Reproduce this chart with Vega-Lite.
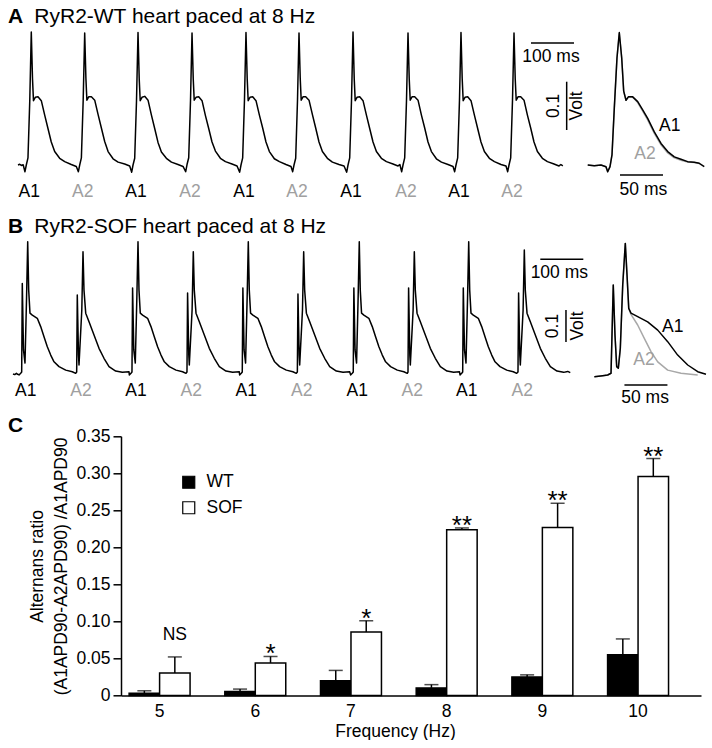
{
"$schema": "https://vega.github.io/schema/vega-lite/v6.json",
"padding": {"left": 7, "top": 0, "right": 0, "bottom": 0},
"columns": 1,
"spacing": 4.3,
"config": {
  "font": "Liberation Sans",
  "view": {"stroke": null},
  "text": {"font": "Liberation Sans", "fontSize": 17.5, "color": "black"},
  "axis": {"domainColor": "black", "tickColor": "black", "labelColor": "black", "titleColor": "black", "domainWidth": 1.5, "tickWidth": 1.5, "grid": false, "labelFontSize": 17.5, "titleFontSize": 17.5, "titleFontWeight": "normal", "labelFont": "Liberation Sans", "titleFont": "Liberation Sans"},
  "legend": {"labelFont": "Liberation Sans", "labelColor": "black"},
  "title": {"font": "Liberation Sans", "color": "black"}
},
"datasets": {
  "wt": [
    {"t":0,"v":0},{"t":4,"v":1.5},{"t":8,"v":-1},{"t":12,"v":0.5},
    {"t":16.2,"v":-14},{"t":19.3,"v":0},{"t":23.2,"v":15},{"t":27.4,"v":135},{"t":30.9,"v":277},{"t":33.7,"v":180},{"t":36.0,"v":134},{"t":40.2,"v":141},{"t":46.5,"v":142},{"t":54.2,"v":134},{"t":62.1,"v":104},{"t":69.7,"v":76},{"t":77.4,"v":48},{"t":85.3,"v":28},{"t":96.9,"v":14},{"t":108.6,"v":7},{"t":123.9,"v":1},{"t":135.6,"v":-3},
    {"t":140.4,"v":-14},{"t":143.5,"v":0},{"t":147.4,"v":15},{"t":151.6,"v":135},{"t":155.1,"v":275},{"t":157.9,"v":181},{"t":160.2,"v":135},{"t":164.4,"v":142},{"t":170.7,"v":142},{"t":178.4,"v":135},{"t":186.3,"v":105},{"t":193.9,"v":77},{"t":201.6,"v":49},{"t":209.5,"v":28},{"t":221.1,"v":13},{"t":232.8,"v":6},{"t":248.1,"v":2},{"t":259.8,"v":-2},
    {"t":264.4,"v":-15},{"t":267.5,"v":0},{"t":271.4,"v":14},{"t":275.6,"v":134},{"t":279.1,"v":276},{"t":281.9,"v":179},{"t":284.2,"v":134},{"t":288.4,"v":141},{"t":294.7,"v":143},{"t":302.4,"v":135},{"t":310.3,"v":104},{"t":317.9,"v":76},{"t":325.6,"v":47},{"t":333.5,"v":27},{"t":345.1,"v":14},{"t":356.8,"v":6},{"t":372.1,"v":1},{"t":383.8,"v":-3},
    {"t":390.0,"v":-14},{"t":393.1,"v":1},{"t":397.0,"v":15},{"t":401.2,"v":135},{"t":404.7,"v":275},{"t":407.5,"v":180},{"t":409.8,"v":135},{"t":414.0,"v":141},{"t":420.3,"v":142},{"t":428.0,"v":134},{"t":435.9,"v":103},{"t":443.5,"v":76},{"t":451.2,"v":48},{"t":459.1,"v":29},{"t":470.7,"v":14},{"t":482.4,"v":7},{"t":497.7,"v":2},{"t":509.4,"v":-2},
    {"t":515.5,"v":-15},{"t":518.6,"v":0},{"t":522.5,"v":15},{"t":526.7,"v":136},{"t":530.2,"v":276},{"t":533.0,"v":180},{"t":535.3,"v":134},{"t":539.5,"v":141},{"t":545.8,"v":142},{"t":553.5,"v":134},{"t":561.4,"v":104},{"t":569.0,"v":77},{"t":576.7,"v":48},{"t":584.6,"v":28},{"t":596.2,"v":13},{"t":607.9,"v":7},{"t":623.2,"v":1},{"t":634.9,"v":-3},
    {"t":638.8,"v":-14},{"t":641.9,"v":0},{"t":645.8,"v":14},{"t":650.0,"v":135},{"t":653.5,"v":275},{"t":656.3,"v":181},{"t":658.6,"v":135},{"t":662.8,"v":142},{"t":669.1,"v":142},{"t":676.8,"v":135},{"t":684.7,"v":105},{"t":692.3,"v":77},{"t":700.0,"v":48},{"t":707.9,"v":28},{"t":719.5,"v":14},{"t":731.2,"v":6},{"t":746.5,"v":1},{"t":758.2,"v":-2},
    {"t":764.4,"v":-15},{"t":767.5,"v":0},{"t":771.4,"v":15},{"t":775.6,"v":135},{"t":779.1,"v":277},{"t":781.9,"v":180},{"t":784.2,"v":134},{"t":788.4,"v":141},{"t":794.7,"v":142},{"t":802.4,"v":134},{"t":810.3,"v":104},{"t":817.9,"v":76},{"t":825.6,"v":48},{"t":833.5,"v":28},{"t":845.1,"v":14},{"t":856.8,"v":7},{"t":872.1,"v":2},{"t":883.8,"v":-2},{"t":888.0,"v":1},
    {"t":892.3,"v":-14},{"t":895.4,"v":0},{"t":899.3,"v":15},{"t":903.5,"v":135},{"t":907.0,"v":275},{"t":909.8,"v":180},{"t":912.1,"v":135},{"t":916.3,"v":142},{"t":922.6,"v":142},{"t":930.3,"v":135},{"t":938.2,"v":104},{"t":945.8,"v":77},{"t":953.5,"v":48},{"t":961.4,"v":28},{"t":973.0,"v":13},{"t":984.7,"v":6},{"t":1000.0,"v":1},{"t":1011.7,"v":-3},
    {"t":1015.5,"v":-14},{"t":1018.6,"v":0},{"t":1022.5,"v":15},{"t":1026.7,"v":135},{"t":1030.2,"v":276},{"t":1033.0,"v":180},{"t":1035.3,"v":134},{"t":1039.5,"v":141},{"t":1045.8,"v":142},{"t":1053.5,"v":134},{"t":1061.4,"v":104},{"t":1069.0,"v":76},{"t":1076.7,"v":48},{"t":1084.6,"v":28},{"t":1096.2,"v":14},{"t":1107.9,"v":7},{"t":1123.2,"v":1},{"t":1134.9,"v":-2},
    {"t":1138.8,"v":-14},{"t":1141.9,"v":0},{"t":1145.8,"v":15},{"t":1150.0,"v":135},{"t":1153.5,"v":275},{"t":1156.3,"v":180},{"t":1158.6,"v":135},{"t":1162.8,"v":142},{"t":1169.1,"v":142},{"t":1176.8,"v":135},{"t":1184.7,"v":104},{"t":1192.3,"v":77},{"t":1200.0,"v":48},{"t":1207.9,"v":28},{"t":1219.5,"v":14},{"t":1231.2,"v":7},{"t":1246.5,"v":2},{"t":1258.2,"v":-2},{"t":1262.5,"v":1},{"t":1267.0,"v":-2}
  ],
  "sof": [
    {"t":0,"v":-3},{"t":4,"v":-5},{"t":8,"v":-1},{"t":11,"v":-4},
    {"t":14.0,"v":-6},{"t":17.9,"v":-1},{"t":20.2,"v":3},{"t":21.6,"v":280},{"t":24.4,"v":72},{"t":27.9,"v":31},{"t":31.4,"v":228},{"t":34.2,"v":410},{"t":36.5,"v":259},{"t":39.5,"v":187},{"t":44.9,"v":181},{"t":56.5,"v":171},{"t":64.4,"v":145},{"t":72.1,"v":113},{"t":79.8,"v":82},{"t":87.7,"v":56},{"t":95.4,"v":35},{"t":107.0,"v":20},{"t":122.6,"v":9},{"t":137.9,"v":4},{"t":145.8,"v":-1},
    {"t":148.1,"v":3},{"t":149.5,"v":244},{"t":152.3,"v":56},{"t":153.5,"v":25},{"t":160.0,"v":197},{"t":162.8,"v":379},{"t":165.1,"v":259},{"t":169.1,"v":187},{"t":176.8,"v":160},{"t":188.4,"v":119},{"t":200.0,"v":77},{"t":211.6,"v":46},{"t":223.3,"v":20},{"t":238.8,"v":6},{"t":254.2,"v":2},{"t":269.8,"v":4},
    {"t":270.5,"v":-6},{"t":274.4,"v":-1},{"t":276.7,"v":3},{"t":278.1,"v":266},{"t":280.9,"v":72},{"t":284.4,"v":31},{"t":287.9,"v":228},{"t":290.7,"v":410},{"t":293.0,"v":259},{"t":296.0,"v":187},{"t":301.4,"v":181},{"t":313.0,"v":171},{"t":320.9,"v":145},{"t":328.6,"v":113},{"t":336.3,"v":82},{"t":344.2,"v":56},{"t":351.9,"v":35},{"t":363.5,"v":20},{"t":379.1,"v":9},{"t":394.4,"v":4},{"t":402.3,"v":-1},
    {"t":404.6,"v":3},{"t":406.0,"v":250},{"t":408.8,"v":56},{"t":410.0,"v":25},{"t":416.5,"v":197},{"t":419.3,"v":379},{"t":421.6,"v":259},{"t":425.6,"v":187},{"t":433.3,"v":160},{"t":444.9,"v":119},{"t":456.5,"v":77},{"t":468.1,"v":46},{"t":479.8,"v":20},{"t":495.3,"v":6},{"t":510.7,"v":2},{"t":526.3,"v":4},
    {"t":527.0,"v":-6},{"t":530.9,"v":-1},{"t":533.2,"v":3},{"t":534.6,"v":266},{"t":537.4,"v":72},{"t":540.9,"v":31},{"t":544.4,"v":228},{"t":547.2,"v":410},{"t":549.5,"v":259},{"t":552.5,"v":187},{"t":557.9,"v":181},{"t":569.5,"v":171},{"t":577.4,"v":145},{"t":585.1,"v":113},{"t":592.8,"v":82},{"t":600.7,"v":56},{"t":608.4,"v":35},{"t":620.0,"v":20},{"t":635.6,"v":9},{"t":650.9,"v":4},{"t":658.8,"v":-1},
    {"t":661.3,"v":3},{"t":662.7,"v":247},{"t":665.5,"v":56},{"t":666.7,"v":25},{"t":673.2,"v":197},{"t":676.0,"v":379},{"t":678.3,"v":259},{"t":682.3,"v":187},{"t":690.0,"v":160},{"t":701.6,"v":119},{"t":713.2,"v":77},{"t":724.8,"v":46},{"t":736.5,"v":20},{"t":752.0,"v":6},{"t":767.4,"v":2},{"t":783.0,"v":4},
    {"t":785.1,"v":-6},{"t":789.0,"v":-1},{"t":791.3,"v":3},{"t":792.7,"v":266},{"t":795.5,"v":72},{"t":799.0,"v":31},{"t":802.5,"v":228},{"t":805.3,"v":410},{"t":807.6,"v":259},{"t":810.6,"v":187},{"t":816.0,"v":181},{"t":827.6,"v":171},{"t":835.5,"v":145},{"t":843.2,"v":113},{"t":850.9,"v":82},{"t":858.8,"v":56},{"t":866.5,"v":35},{"t":878.1,"v":20},{"t":893.7,"v":9},{"t":909.0,"v":4},{"t":916.9,"v":-1},
    {"t":918.6,"v":3},{"t":920.0,"v":266},{"t":922.8,"v":56},{"t":924.0,"v":25},{"t":930.5,"v":197},{"t":933.3,"v":379},{"t":935.6,"v":259},{"t":939.6,"v":187},{"t":947.3,"v":160},{"t":958.9,"v":119},{"t":970.5,"v":77},{"t":982.1,"v":46},{"t":993.8,"v":20},{"t":1009.3,"v":6},{"t":1024.7,"v":2},{"t":1038.3,"v":4},
    {"t":1039.6,"v":-6},{"t":1043.5,"v":-1},{"t":1045.8,"v":3},{"t":1047.2,"v":266},{"t":1050.0,"v":72},{"t":1053.5,"v":31},{"t":1057.0,"v":228},{"t":1059.8,"v":410},{"t":1062.1,"v":259},{"t":1065.1,"v":187},{"t":1070.5,"v":181},{"t":1082.1,"v":171},{"t":1090.0,"v":145},{"t":1097.7,"v":113},{"t":1105.4,"v":82},{"t":1113.3,"v":56},{"t":1121.0,"v":35},{"t":1132.6,"v":20},{"t":1148.2,"v":9},{"t":1163.5,"v":4},{"t":1171.4,"v":-1},
    {"t":1174.4,"v":3},{"t":1175.8,"v":250},{"t":1178.6,"v":56},{"t":1179.8,"v":25},{"t":1186.3,"v":197},{"t":1189.1,"v":384},{"t":1191.4,"v":259},{"t":1195.4,"v":187},{"t":1203.1,"v":160},{"t":1214.7,"v":119},{"t":1226.3,"v":77},{"t":1237.9,"v":46},{"t":1249.6,"v":20},{"t":1265.1,"v":6},{"t":1280.5,"v":2},{"t":1290.0,"v":5},{"t":1296.0,"v":1}
  ],
  "wtInset": [
    {"t":-36.7,"v":0,"beat":"A2"},{"t":-29.1,"v":-1.5,"beat":"A2"},{"t":-21.3,"v":0,"beat":"A2"},{"t":-15.5,"v":-3.5,"beat":"A2"},{"t":-13.5,"v":-14,"beat":"A2"},{"t":-10.8,"v":-3.5,"beat":"A2"},{"t":-8.5,"v":21,"beat":"A2"},{"t":-5.8,"v":119,"beat":"A2"},{"t":-2.7,"v":223,"beat":"A2"},{"t":0,"v":274,"beat":"A2"},{"t":2.8,"v":223,"beat":"A2"},{"t":5.1,"v":154,"beat":"A2"},{"t":7.8,"v":135,"beat":"A2"},{"t":10.5,"v":141,"beat":"A2"},{"t":15.6,"v":141,"beat":"A2"},{"t":21.4,"v":130,"beat":"A2"},{"t":27.2,"v":112,"beat":"A2"},{"t":33.0,"v":94,"beat":"A2"},{"t":40.7,"v":66,"beat":"A2"},{"t":48.5,"v":42,"beat":"A2"},{"t":56.3,"v":25,"beat":"A2"},{"t":64.0,"v":15,"beat":"A2"},{"t":71.7,"v":10,"beat":"A2"},{"t":79.5,"v":6,"beat":"A2"},{"t":87.2,"v":5,"beat":"A2"},{"t":93.0,"v":3,"beat":"A2"},
    {"t":-36.7,"v":0,"beat":"A1"},{"t":-29.1,"v":-1.5,"beat":"A1"},{"t":-21.3,"v":0,"beat":"A1"},{"t":-15.5,"v":-3.5,"beat":"A1"},{"t":-13.5,"v":-14,"beat":"A1"},{"t":-10.8,"v":-3.5,"beat":"A1"},{"t":-8.5,"v":21,"beat":"A1"},{"t":-5.8,"v":119,"beat":"A1"},{"t":-2.7,"v":223,"beat":"A1"},{"t":0,"v":276,"beat":"A1"},{"t":2.8,"v":223,"beat":"A1"},{"t":5.1,"v":154,"beat":"A1"},{"t":7.8,"v":135,"beat":"A1"},{"t":10.5,"v":142,"beat":"A1"},{"t":15.6,"v":142,"beat":"A1"},{"t":21.4,"v":132,"beat":"A1"},{"t":27.2,"v":115,"beat":"A1"},{"t":33.0,"v":97,"beat":"A1"},{"t":40.7,"v":69,"beat":"A1"},{"t":48.5,"v":45,"beat":"A1"},{"t":56.3,"v":28,"beat":"A1"},{"t":64.0,"v":17,"beat":"A1"},{"t":71.7,"v":12,"beat":"A1"},{"t":79.5,"v":7,"beat":"A1"},{"t":87.2,"v":5.6,"beat":"A1"},{"t":93.0,"v":3.5,"beat":"A1"},{"t":98.8,"v":-3.5,"beat":"A1"}
  ],
  "sofInset": [
    {"t":-36.0,"v":-11.6,"beat":"A2"},{"t":-26.3,"v":-8.4,"beat":"A2"},{"t":-20.5,"v":-6.3,"beat":"A2"},{"t":-16.6,"v":-0.9,"beat":"A2"},{"t":-14.0,"v":275,"beat":"A2"},{"t":-12.0,"v":119,"beat":"A2"},{"t":-10.0,"v":20,"beat":"A2"},{"t":-8.1,"v":15,"beat":"A2"},{"t":-5.8,"v":77,"beat":"A2"},{"t":-3.0,"v":275,"beat":"A2"},{"t":0,"v":405,"beat":"A2"},{"t":2.0,"v":306,"beat":"A2"},{"t":4.0,"v":202,"beat":"A2"},{"t":6.6,"v":183,"beat":"A2"},{"t":14.4,"v":150,"beat":"A2"},{"t":22.1,"v":108,"beat":"A2"},{"t":29.9,"v":67,"beat":"A2"},{"t":37.7,"v":35,"beat":"A2"},{"t":49.3,"v":9,"beat":"A2"},{"t":64.8,"v":-1,"beat":"A2"},{"t":84.2,"v":-6,"beat":"A2"},
    {"t":-36.0,"v":-11.6,"beat":"A1"},{"t":-26.3,"v":-8.4,"beat":"A1"},{"t":-20.5,"v":-6.3,"beat":"A1"},{"t":-16.6,"v":-0.9,"beat":"A1"},{"t":-14.0,"v":275,"beat":"A1"},{"t":-12.0,"v":119,"beat":"A1"},{"t":-10.0,"v":20,"beat":"A1"},{"t":-8.1,"v":15,"beat":"A1"},{"t":-5.8,"v":77,"beat":"A1"},{"t":-3.0,"v":275,"beat":"A1"},{"t":0,"v":405,"beat":"A1"},{"t":2.0,"v":306,"beat":"A1"},{"t":4.0,"v":202,"beat":"A1"},{"t":6.6,"v":187,"beat":"A1"},{"t":14.4,"v":176,"beat":"A1"},{"t":26.0,"v":160,"beat":"A1"},{"t":37.7,"v":134,"beat":"A1"},{"t":49.3,"v":98,"beat":"A1"},{"t":60.9,"v":56,"beat":"A1"},{"t":72.6,"v":25,"beat":"A1"},{"t":84.2,"v":4,"beat":"A1"},{"t":93.8,"v":-4,"beat":"A1"}
  ],
  "wtBeats": [
    {"t":30.9,"beat":"A1"},{"t":155.1,"beat":"A2"},{"t":279.1,"beat":"A1"},{"t":404.7,"beat":"A2"},{"t":530.2,"beat":"A1"},{"t":653.5,"beat":"A2"},{"t":779.1,"beat":"A1"},{"t":907.0,"beat":"A2"},{"t":1030.2,"beat":"A1"},{"t":1153.5,"beat":"A2"}
  ],
  "sofBeats": [
    {"t":34.2,"beat":"A1"},{"t":162.8,"beat":"A2"},{"t":290.7,"beat":"A1"},{"t":419.3,"beat":"A2"},{"t":547.2,"beat":"A1"},{"t":676.0,"beat":"A2"},{"t":805.3,"beat":"A1"},{"t":933.3,"beat":"A2"},{"t":1059.8,"beat":"A1"},{"t":1189.1,"beat":"A2"}
  ],
  "bars": [
    {"freq":5,"geno":"WT","mean":0.0033,"err":0.0065,"sig":""},
    {"freq":5,"geno":"SOF","mean":0.0306,"err":0.0522,"sig":"NS"},
    {"freq":6,"geno":"WT","mean":0.0055,"err":0.0088,"sig":""},
    {"freq":6,"geno":"SOF","mean":0.0441,"err":0.0528,"sig":"*"},
    {"freq":7,"geno":"WT","mean":0.0202,"err":0.034,"sig":""},
    {"freq":7,"geno":"SOF","mean":0.086,"err":0.101,"sig":"*"},
    {"freq":8,"geno":"WT","mean":0.0104,"err":0.0148,"sig":""},
    {"freq":8,"geno":"SOF","mean":0.224,"err":0.2263,"sig":"**"},
    {"freq":9,"geno":"WT","mean":0.0252,"err":0.028,"sig":""},
    {"freq":9,"geno":"SOF","mean":0.227,"err":0.2596,"sig":"**"},
    {"freq":10,"geno":"WT","mean":0.055,"err":0.0765,"sig":""},
    {"freq":10,"geno":"SOF","mean":0.2956,"err":0.32,"sig":"**"}
  ]
},
"concat": [
  {
    "width": 592,
    "height": 410,
    "data": {"values": [{}]},
    "resolve": {"scale": {"x": "independent", "y": "independent"}},
    "layer": [
      {"data": {"name": "wt"}, "mark": {"type": "line", "color": "black", "strokeWidth": 1.5, "strokeJoin": "round"},
       "encoding": {"x": {"field": "t", "type": "quantitative", "scale": {"domain": [239.535, 1616.279], "nice": false, "zero": false}, "axis": null},
                    "y": {"field": "v", "type": "quantitative", "scale": {"domain": [-510.42, 343.75], "nice": false, "zero": false}, "axis": null}}},
      {"data": {"name": "wtBeats"}, "mark": {"type": "text", "baseline": "alphabetic", "dx": -2, "fontSize": 17.5},
       "encoding": {"x": {"field": "t", "type": "quantitative", "scale": {"domain": [239.535, 1616.279], "nice": false, "zero": false}, "axis": null},
                    "y": {"datum": -66.7, "type": "quantitative", "scale": {"domain": [-510.42, 343.75], "nice": false, "zero": false}, "axis": null},
                    "text": {"field": "beat"},
                    "color": {"field": "beat", "type": "nominal", "scale": {"domain": ["A1", "A2"], "range": ["black", "#a0a0a0"]}, "legend": null}}},
      {"mark": {"type": "rule", "color": "black", "strokeWidth": 1.5},
       "encoding": {"x": {"datum": 1193, "type": "quantitative", "scale": {"domain": [239.535, 1616.279], "nice": false, "zero": false}, "axis": null}, "x2": {"datum": 1293},
                    "y": {"datum": 254.2, "type": "quantitative", "scale": {"domain": [-510.42, 343.75], "nice": false, "zero": false}, "axis": null}}},
      {"mark": {"type": "text", "baseline": "alphabetic", "fontSize": 17.5},
       "encoding": {"x": {"datum": 1239.5, "type": "quantitative", "scale": {"domain": [239.535, 1616.279], "nice": false, "zero": false}, "axis": null},
                    "y": {"datum": 214.6, "type": "quantitative", "scale": {"domain": [-510.42, 343.75], "nice": false, "zero": false}, "axis": null}, "text": {"value": "100 ms"}}},
      {"mark": {"type": "rule", "color": "black", "strokeWidth": 1.5},
       "encoding": {"x": {"datum": 1276, "type": "quantitative", "scale": {"domain": [239.535, 1616.279], "nice": false, "zero": false}, "axis": null},
                    "y": {"datum": 72.9, "type": "quantitative", "scale": {"domain": [-510.42, 343.75], "nice": false, "zero": false}, "axis": null}, "y2": {"datum": 173.5}}},
      {"mark": {"type": "text", "angle": 270, "baseline": "middle", "align": "center", "fontSize": 17.5},
       "encoding": {"x": {"datum": 1246.5, "type": "quantitative", "scale": {"domain": [239.535, 1616.279], "nice": false, "zero": false}, "axis": null},
                    "y": {"datum": 123, "type": "quantitative", "scale": {"domain": [-510.42, 343.75], "nice": false, "zero": false}, "axis": null}, "text": {"value": "0.1"}}},
      {"mark": {"type": "text", "angle": 270, "baseline": "middle", "align": "center", "fontSize": 17.5},
       "encoding": {"x": {"datum": 1300, "type": "quantitative", "scale": {"domain": [239.535, 1616.279], "nice": false, "zero": false}, "axis": null},
                    "y": {"datum": 123, "type": "quantitative", "scale": {"domain": [-510.42, 343.75], "nice": false, "zero": false}, "axis": null}, "text": {"value": "Volt"}}},
      {"mark": {"type": "text", "align": "left", "baseline": "alphabetic", "fontSize": 21, "fontWeight": "bold"},
       "encoding": {"x": {"datum": -23.256, "type": "quantitative", "scale": {"domain": [239.535, 1616.279], "nice": false, "zero": false}, "axis": null},
                    "y": {"datum": 295.8, "type": "quantitative", "scale": {"domain": [-510.42, 343.75], "nice": false, "zero": false}, "axis": null}, "text": {"value": "A"}}},
      {"mark": {"type": "text", "align": "left", "baseline": "alphabetic", "fontSize": 21},
       "encoding": {"x": {"datum": 37.9, "type": "quantitative", "scale": {"domain": [239.535, 1616.279], "nice": false, "zero": false}, "axis": null},
                    "y": {"datum": 295.8, "type": "quantitative", "scale": {"domain": [-510.42, 343.75], "nice": false, "zero": false}, "axis": null}, "text": {"value": "RyR2-WT heart paced at 8 Hz"}}},

      {"data": {"name": "wtInset"}, "transform": [{"filter": "datum.beat === 'A2'"}], "mark": {"type": "line", "color": "#a8a8a8", "strokeWidth": 1.5, "strokeJoin": "round"},
       "encoding": {"x": {"field": "t", "type": "quantitative", "scale": {"domain": [-579.419, 108.953], "nice": false, "zero": false}, "axis": null},
                    "y": {"field": "v", "type": "quantitative", "scale": {"domain": [-510.42, 343.75], "nice": false, "zero": false}, "axis": null}}},
      {"data": {"name": "wtInset"}, "transform": [{"filter": "datum.beat === 'A1'"}], "mark": {"type": "line", "color": "black", "strokeWidth": 1.5, "strokeJoin": "round"},
       "encoding": {"x": {"field": "t", "type": "quantitative", "scale": {"domain": [-579.419, 108.953], "nice": false, "zero": false}, "axis": null},
                    "y": {"field": "v", "type": "quantitative", "scale": {"domain": [-510.42, 343.75], "nice": false, "zero": false}, "axis": null}}},
      {"mark": {"type": "text", "baseline": "alphabetic", "fontSize": 17.5, "color": "black"},
       "encoding": {"x": {"datum": 58.6, "type": "quantitative", "scale": {"domain": [-579.419, 108.953], "nice": false, "zero": false}, "axis": null},
                    "y": {"datum": 70.8, "type": "quantitative", "scale": {"domain": [-510.42, 343.75], "nice": false, "zero": false}, "axis": null}, "text": {"value": "A1"}}},
      {"mark": {"type": "text", "baseline": "alphabetic", "fontSize": 17.5, "color": "#a0a0a0"},
       "encoding": {"x": {"datum": 29.9, "type": "quantitative", "scale": {"domain": [-579.419, 108.953], "nice": false, "zero": false}, "axis": null},
                    "y": {"datum": 13.5, "type": "quantitative", "scale": {"domain": [-510.42, 343.75], "nice": false, "zero": false}, "axis": null}, "text": {"value": "A2"}}},
      {"mark": {"type": "rule", "color": "black", "strokeWidth": 1.5},
       "encoding": {"x": {"datum": 0.8, "type": "quantitative", "scale": {"domain": [-579.419, 108.953], "nice": false, "zero": false}, "axis": null}, "x2": {"datum": 50.8},
                    "y": {"datum": -20.8, "type": "quantitative", "scale": {"domain": [-510.42, 343.75], "nice": false, "zero": false}, "axis": null}}},
      {"mark": {"type": "text", "baseline": "alphabetic", "fontSize": 17.5},
       "encoding": {"x": {"datum": 28, "type": "quantitative", "scale": {"domain": [-579.419, 108.953], "nice": false, "zero": false}, "axis": null},
                    "y": {"datum": -62.5, "type": "quantitative", "scale": {"domain": [-510.42, 343.75], "nice": false, "zero": false}, "axis": null}, "text": {"value": "50 ms"}}},

      {"data": {"name": "sof"}, "mark": {"type": "line", "color": "black", "strokeWidth": 1.5, "strokeJoin": "round"},
       "encoding": {"x": {"field": "t", "type": "quantitative", "scale": {"domain": [251.163, 1627.907], "nice": false, "zero": false}, "axis": null},
                    "y": {"field": "v", "type": "quantitative", "scale": {"domain": [-115.625, 1165.625], "nice": false, "zero": false}, "axis": null}}},
      {"data": {"name": "sofBeats"}, "mark": {"type": "text", "baseline": "alphabetic", "dx": -2, "fontSize": 17.5},
       "encoding": {"x": {"field": "t", "type": "quantitative", "scale": {"domain": [251.163, 1627.907], "nice": false, "zero": false}, "axis": null},
                    "y": {"datum": -71.9, "type": "quantitative", "scale": {"domain": [-115.625, 1165.625], "nice": false, "zero": false}, "axis": null},
                    "text": {"field": "beat"},
                    "color": {"field": "beat", "type": "nominal", "scale": {"domain": ["A1", "A2"], "range": ["black", "#a0a0a0"]}, "legend": null}}},
      {"mark": {"type": "rule", "color": "black", "strokeWidth": 1.5},
       "encoding": {"x": {"datum": 1226.3, "type": "quantitative", "scale": {"domain": [251.163, 1627.907], "nice": false, "zero": false}, "axis": null}, "x2": {"datum": 1326.3},
                    "y": {"datum": 355.3, "type": "quantitative", "scale": {"domain": [-115.625, 1165.625], "nice": false, "zero": false}, "axis": null}}},
      {"mark": {"type": "text", "baseline": "alphabetic", "fontSize": 17.5},
       "encoding": {"x": {"datum": 1270.5, "type": "quantitative", "scale": {"domain": [251.163, 1627.907], "nice": false, "zero": false}, "axis": null},
                    "y": {"datum": 298.4, "type": "quantitative", "scale": {"domain": [-115.625, 1165.625], "nice": false, "zero": false}, "axis": null}, "text": {"value": "100 ms"}}},
      {"mark": {"type": "rule", "color": "black", "strokeWidth": 1.5},
       "encoding": {"x": {"datum": 1286, "type": "quantitative", "scale": {"domain": [251.163, 1627.907], "nice": false, "zero": false}, "axis": null},
                    "y": {"datum": 96.9, "type": "quantitative", "scale": {"domain": [-115.625, 1165.625], "nice": false, "zero": false}, "axis": null}, "y2": {"datum": 196.9}}},
      {"mark": {"type": "text", "angle": 270, "baseline": "middle", "align": "center", "fontSize": 17.5},
       "encoding": {"x": {"datum": 1255.1, "type": "quantitative", "scale": {"domain": [251.163, 1627.907], "nice": false, "zero": false}, "axis": null},
                    "y": {"datum": 146.9, "type": "quantitative", "scale": {"domain": [-115.625, 1165.625], "nice": false, "zero": false}, "axis": null}, "text": {"value": "0.1"}}},
      {"mark": {"type": "text", "angle": 270, "baseline": "middle", "align": "center", "fontSize": 17.5},
       "encoding": {"x": {"datum": 1312.8, "type": "quantitative", "scale": {"domain": [251.163, 1627.907], "nice": false, "zero": false}, "axis": null},
                    "y": {"datum": 146.9, "type": "quantitative", "scale": {"domain": [-115.625, 1165.625], "nice": false, "zero": false}, "axis": null}, "text": {"value": "Volt"}}},
      {"mark": {"type": "text", "align": "left", "baseline": "alphabetic", "fontSize": 21, "fontWeight": "bold"},
       "encoding": {"x": {"datum": -11.628, "type": "quantitative", "scale": {"domain": [251.163, 1627.907], "nice": false, "zero": false}, "axis": null},
                    "y": {"datum": 437.5, "type": "quantitative", "scale": {"domain": [-115.625, 1165.625], "nice": false, "zero": false}, "axis": null}, "text": {"value": "B"}}},
      {"mark": {"type": "text", "align": "left", "baseline": "alphabetic", "fontSize": 21},
       "encoding": {"x": {"datum": 49.5, "type": "quantitative", "scale": {"domain": [251.163, 1627.907], "nice": false, "zero": false}, "axis": null},
                    "y": {"datum": 437.5, "type": "quantitative", "scale": {"domain": [-115.625, 1165.625], "nice": false, "zero": false}, "axis": null}, "text": {"value": "RyR2-SOF heart paced at 8 Hz"}}},

      {"data": {"name": "sofInset"}, "transform": [{"filter": "datum.beat === 'A2'"}], "mark": {"type": "line", "color": "#a8a8a8", "strokeWidth": 1.5, "strokeJoin": "round"},
       "encoding": {"x": {"field": "t", "type": "quantitative", "scale": {"domain": [-586.395, 101.977], "nice": false, "zero": false}, "axis": null},
                    "y": {"field": "v", "type": "quantitative", "scale": {"domain": [-115.625, 1165.625], "nice": false, "zero": false}, "axis": null}}},
      {"data": {"name": "sofInset"}, "transform": [{"filter": "datum.beat === 'A1'"}], "mark": {"type": "line", "color": "black", "strokeWidth": 1.5, "strokeJoin": "round"},
       "encoding": {"x": {"field": "t", "type": "quantitative", "scale": {"domain": [-586.395, 101.977], "nice": false, "zero": false}, "axis": null},
                    "y": {"field": "v", "type": "quantitative", "scale": {"domain": [-115.625, 1165.625], "nice": false, "zero": false}, "axis": null}}},
      {"mark": {"type": "text", "baseline": "alphabetic", "fontSize": 17.5, "color": "black"},
       "encoding": {"x": {"datum": 55.1, "type": "quantitative", "scale": {"domain": [-586.395, 101.977], "nice": false, "zero": false}, "axis": null},
                    "y": {"datum": 129, "type": "quantitative", "scale": {"domain": [-115.625, 1165.625], "nice": false, "zero": false}, "axis": null}, "text": {"value": "A1"}}},
      {"mark": {"type": "text", "baseline": "alphabetic", "fontSize": 17.5, "color": "#a0a0a0"},
       "encoding": {"x": {"datum": 21.7, "type": "quantitative", "scale": {"domain": [-586.395, 101.977], "nice": false, "zero": false}, "axis": null},
                    "y": {"datum": 25, "type": "quantitative", "scale": {"domain": [-115.625, 1165.625], "nice": false, "zero": false}, "axis": null}, "text": {"value": "A2"}}},
      {"mark": {"type": "rule", "color": "black", "strokeWidth": 1.5},
       "encoding": {"x": {"datum": -1, "type": "quantitative", "scale": {"domain": [-586.395, 101.977], "nice": false, "zero": false}, "axis": null}, "x2": {"datum": 49},
                    "y": {"datum": -37.5, "type": "quantitative", "scale": {"domain": [-115.625, 1165.625], "nice": false, "zero": false}, "axis": null}}},
      {"mark": {"type": "text", "baseline": "alphabetic", "fontSize": 17.5},
       "encoding": {"x": {"datum": 23, "type": "quantitative", "scale": {"domain": [-586.395, 101.977], "nice": false, "zero": false}, "axis": null},
                    "y": {"datum": -94.7, "type": "quantitative", "scale": {"domain": [-115.625, 1165.625], "nice": false, "zero": false}, "axis": null}, "text": {"value": "50 ms"}}}
    ]
  },
  {
    "width": 580,
    "height": 259.3,
    "title": {"text": "C", "anchor": "start", "frame": "group", "fontSize": 21, "fontWeight": "bold", "dx": -113, "offset": -8.6, "color": "black"},
    "data": {"name": "bars"},
    "encoding": {
      "x": {"field": "freq", "type": "ordinal", "sort": [5, 6, 7, 8, 9, 10],
            "scale": {"paddingInner": 0.363, "paddingOuter": 0.212, "align": 0.2},
            "axis": {"title": "Frequency (Hz)", "labelAngle": 0, "tickSize": 0, "labelPadding": 7, "titlePadding": 2, "titleX": 274}},
      "xOffset": {"field": "geno", "type": "nominal", "sort": ["WT", "SOF"], "scale": {"paddingInner": 0, "paddingOuter": 0}}
    },
    "layer": [
      {"mark": {"type": "bar", "stroke": "black", "strokeWidth": 1.5},
       "encoding": {
         "y": {"field": "mean", "type": "quantitative", "scale": {"domain": [0, 0.35], "nice": false},
               "axis": {"title": ["Alternans ratio", "(A1APD90-A2APD90) /A1APD90"], "values": [0, 0.05, 0.1, 0.15, 0.2, 0.25, 0.3, 0.35],
                        "labelExpr": "datum.value === 0 ? '0' : format(datum.value, '.2f')", "tickSize": 8, "labelPadding": 3, "titlePadding": 5, "titleLineHeight": 24, "labelOverlap": false}},
         "fill": {"field": "geno", "type": "nominal", "scale": {"domain": ["WT", "SOF"], "range": ["black", "white"]},
                  "legend": {"orient": "none", "legendX": 59, "legendY": 473.5, "title": null, "symbolType": "square", "symbolSize": 144, "symbolStrokeColor": "black", "symbolStrokeWidth": 1.2, "labelFontSize": 17.5, "labelOffset": 9, "rowPadding": 6.5}}
       }},
      {"mark": {"type": "rule", "color": "black", "strokeWidth": 1.5},
       "encoding": {"y": {"field": "mean", "type": "quantitative", "scale": {"domain": [0, 0.35], "nice": false},
               "axis": {"title": ["Alternans ratio", "(A1APD90-A2APD90) /A1APD90"], "values": [0, 0.05, 0.1, 0.15, 0.2, 0.25, 0.3, 0.35],
                        "labelExpr": "datum.value === 0 ? '0' : format(datum.value, '.2f')", "tickSize": 8, "labelPadding": 3, "titlePadding": 5, "titleLineHeight": 24, "labelOverlap": false}},
                    "y2": {"field": "err"}}},
      {"mark": {"type": "tick", "orient": "horizontal", "size": 14, "thickness": 1.5, "color": "black"},
       "encoding": {"y": {"field": "err", "type": "quantitative", "scale": {"domain": [0, 0.35], "nice": false},
               "axis": {"title": ["Alternans ratio", "(A1APD90-A2APD90) /A1APD90"], "values": [0, 0.05, 0.1, 0.15, 0.2, 0.25, 0.3, 0.35],
                        "labelExpr": "datum.value === 0 ? '0' : format(datum.value, '.2f')", "tickSize": 8, "labelPadding": 3, "titlePadding": 5, "titleLineHeight": 24, "labelOverlap": false}}}},
      {"transform": [{"filter": "datum.sig === 'NS'"}], "mark": {"type": "text", "baseline": "alphabetic", "dy": -17, "fontSize": 17.5},
       "encoding": {"y": {"field": "err", "type": "quantitative", "scale": {"domain": [0, 0.35], "nice": false},
               "axis": {"title": ["Alternans ratio", "(A1APD90-A2APD90) /A1APD90"], "values": [0, 0.05, 0.1, 0.15, 0.2, 0.25, 0.3, 0.35],
                        "labelExpr": "datum.value === 0 ? '0' : format(datum.value, '.2f')", "tickSize": 8, "labelPadding": 3, "titlePadding": 5, "titleLineHeight": 24, "labelOverlap": false}},
                    "text": {"field": "sig"}}},
      {"transform": [{"filter": "datum.sig === '*' || datum.sig === '**'"}], "mark": {"type": "text", "baseline": "alphabetic", "dy": 6, "fontSize": 26},
       "encoding": {"y": {"field": "err", "type": "quantitative", "scale": {"domain": [0, 0.35], "nice": false},
               "axis": {"title": ["Alternans ratio", "(A1APD90-A2APD90) /A1APD90"], "values": [0, 0.05, 0.1, 0.15, 0.2, 0.25, 0.3, 0.35],
                        "labelExpr": "datum.value === 0 ? '0' : format(datum.value, '.2f')", "tickSize": 8, "labelPadding": 3, "titlePadding": 5, "titleLineHeight": 24, "labelOverlap": false}},
                    "text": {"field": "sig"}}}
    ]
  }
]
}
